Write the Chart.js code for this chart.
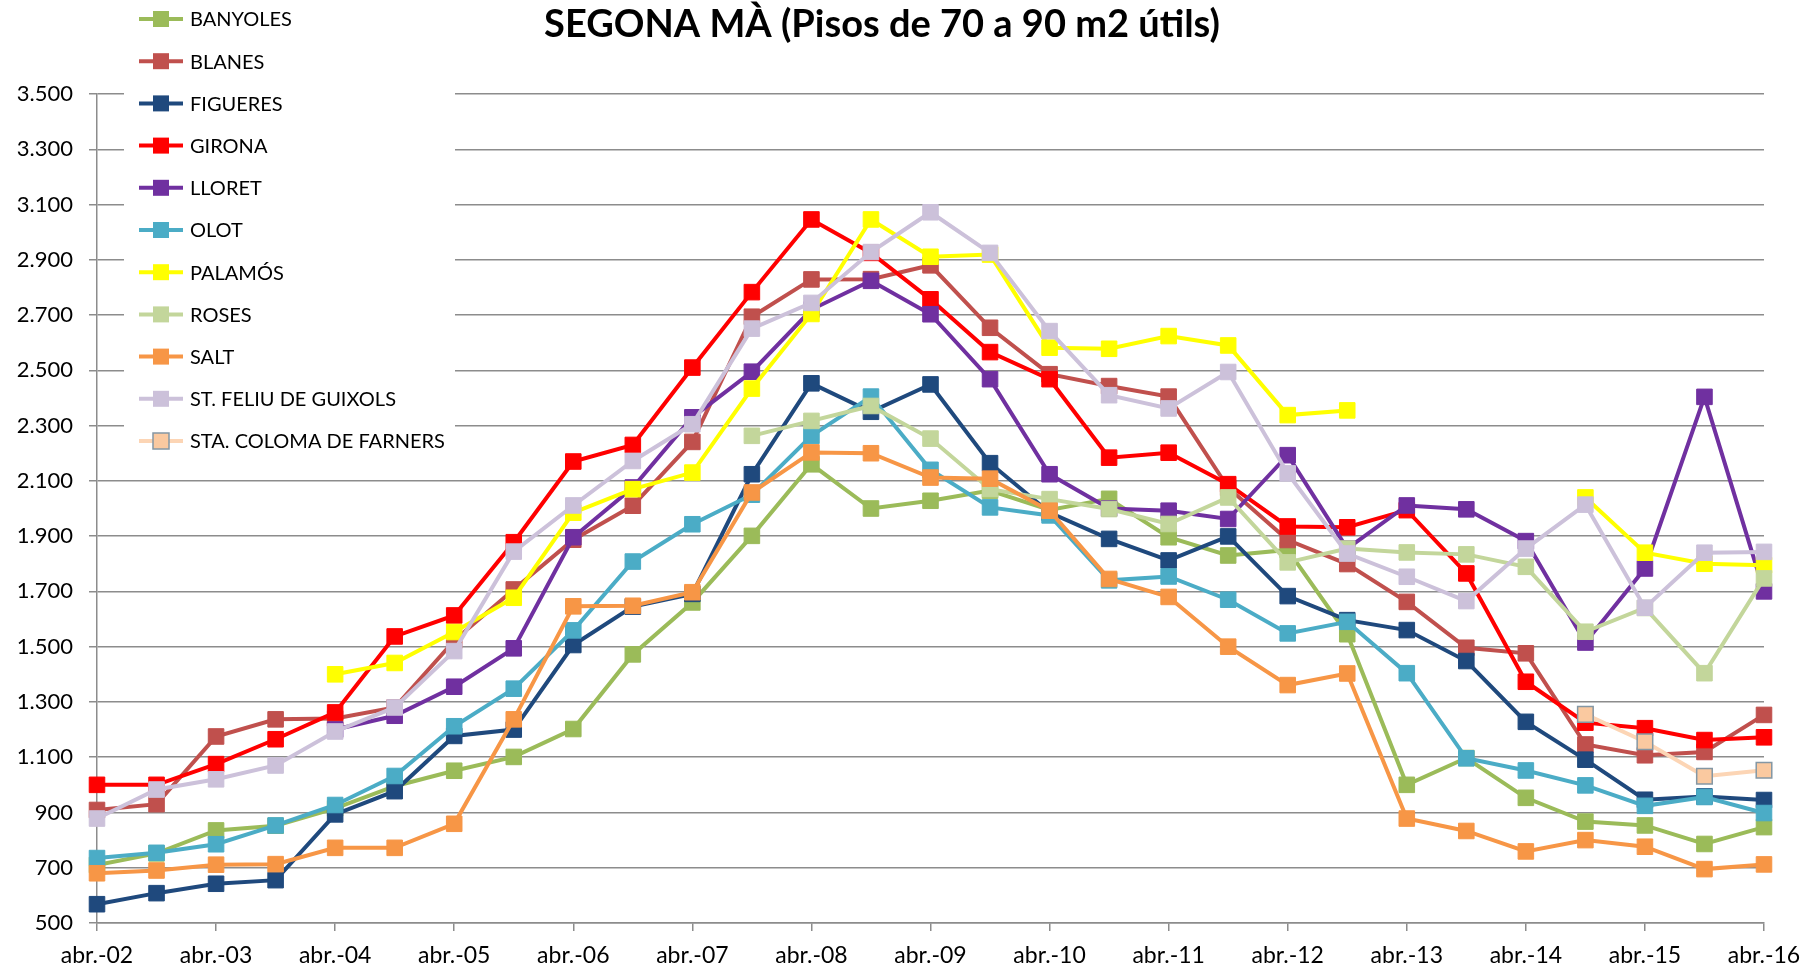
<!DOCTYPE html>
<html><head><meta charset="utf-8">
<script src="https://cdn.jsdelivr.net/npm/chart.js@4"></script>
<style>html,body{margin:0;padding:0;background:#fff;overflow:hidden}#wrap{width:1816px;height:977px;position:relative}</style>
</head><body><div id="wrap"><canvas id="c" width="1816" height="977"></canvas></div>
<script>
// ---- DATA ----
const chartTitle = 'SEGONA MÀ (Pisos de 70 a 90 m2 útils)';
const tickLabels = ['abr.-02','abr.-03','abr.-04','abr.-05','abr.-06','abr.-07','abr.-08','abr.-09','abr.-10','abr.-11','abr.-12','abr.-13','abr.-14','abr.-15','abr.-16'];
const seriesNames = ['BANYOLES','BLANES','FIGUERES','GIRONA','LLORET','OLOT','PALAMÓS','ROSES','SALT','ST. FELIU DE GUIXOLS','STA. COLOMA DE FARNERS'];
const banyoles = [710,752,835,852,915,995,1051,1101,1202,1472,1660,1901,2160,2000,2028,2065,1995,2035,1896,1830,1850,1545,1000,1097,953,867,853,786,847];
const blanes   = [909,930,1175,1237,1240,1280,1522,1707,1887,2010,2241,2694,2829,2830,2880,2654,2486,2443,2405,2075,1886,1799,1662,1496,1476,1146,1107,1119,1253];
const figueres = [568,608,642,655,893,977,1177,1200,1506,1645,1691,2124,2453,2350,2449,2164,1985,1890,1812,1899,1683,1596,1560,1448,1228,1091,946,958,945];
const girona   = [1000,1000,1075,1165,1262,1537,1613,1878,2170,2230,2510,2783,3046,2925,2757,2566,2468,2184,2202,2088,1935,1932,1994,1765,1373,1225,1205,1162,1172];
const lloret   = [null,null,null,null,1200,1250,1355,1494,1896,2076,2330,2495,2720,2824,2703,2468,2124,2000,1992,1962,2193,1855,2011,1997,1882,1515,1783,2404,1700];
const olot     = [735,754,785,853,927,1032,1212,1348,1559,1808,1943,2050,2263,2405,2140,2004,1975,1740,1754,1670,1548,1590,1404,1096,1052,998,924,956,898];
const palamos  = [null,null,null,null,1400,1441,1553,1677,1985,2070,2130,2434,2704,3046,2911,2919,2582,2578,2624,2590,2338,2355,null,null,null,2040,1840,1800,1795];
const roses    = [null,null,null,null,null,null,null,null,null,null,null,2263,2317,2371,2253,2070,2034,1998,1944,2040,1805,1855,1841,1834,1789,1554,1640,1404,1747];
const salt     = [680,690,711,713,772,772,859,1237,1646,1648,1697,2058,2203,2200,2112,2108,1992,1745,1680,1500,1361,1403,878,833,759,800,776,695,712];
const stFeliu  = [878,983,1020,1070,1193,1280,1484,1844,2011,2172,2305,2651,2744,2928,3072,2925,2642,2410,2362,2494,2127,1837,1753,1665,1855,2014,1641,1840,1843];
const staColoma= [null,null,null,null,null,null,null,null,null,null,null,null,null,null,null,null,null,null,null,null,null,null,null,null,null,1255,1156,1031,1053];

// categories: half-yearly points, labelled only in April
const categories = [];
tickLabels.forEach((t, i) => { categories.push(t); if (i < tickLabels.length - 1) categories.push(''); });

// ---- STYLE ----
const FONT = 'Lato, "Liberation Sans", sans-serif';
const lineColors   = ['#9BBB59','#C0504D','#1F497D','#FF0000','#7030A0','#4BACC6','#FFFF00','#C3D69B','#F79646','#CCC1DA','#FCD5B5'];
const markerFill   = ['#9BBB59','#C0504D','#1F497D','#FF0000','#7030A0','#4BACC6','#FFFF00','#C3D69B','#F79646','#CCC1DA','#FAC9A0'];
const markerBorder = ['#9BBB59','#C0504D','#1F497D','#FF0000','#7030A0','#4BACC6','#FFFF00','#C3D69B','#F79646','#CCC1DA','#8497A4'];
const allSeries = [banyoles, blanes, figueres, girona, lloret, olot, palamos, roses, salt, stFeliu, staColoma];

const datasets = allSeries.map((d, i) => ({
  label: seriesNames[i],
  data: d,
  borderColor: lineColors[i],
  backgroundColor: markerFill[i],
  pointBackgroundColor: markerFill[i],
  pointBorderColor: markerBorder[i],
  pointBorderWidth: i === 10 ? 1.5 : 1,
  pointStyle: 'rect',
  pointRadius: 11,
  pointHoverRadius: 11,
  borderWidth: 4,
  tension: 0,
  spanGaps: false,
  order: allSeries.length - i
}));

const fmt = v => v >= 1000 ? Math.floor(v / 1000) + '.' + String(v % 1000).padStart(3, '0') : String(v);

const titlePlugin = {
  id: 'fixedTitle',
  afterDraw(chart) {
    const ctx = chart.ctx;
    ctx.save();
    ctx.font = 'bold 38px ' + FONT;
    ctx.fillStyle = '#000';
    ctx.textAlign = 'center';
    ctx.textBaseline = 'middle';
    ctx.fillText(chartTitle, 882, 25);
    ctx.restore();
  }
};

const legendPlugin = {
  id: 'insideLegend',
  afterDraw(chart) {
    const ctx = chart.ctx;
    ctx.save();
    ctx.fillStyle = '#fff';
    ctx.fillRect(124, 0, 331, 458);
    chart.data.datasets.forEach((ds, i) => {
      const y = 19 + 42.2 * i;
      ctx.strokeStyle = ds.borderColor;
      ctx.lineWidth = 4;
      ctx.beginPath(); ctx.moveTo(139, y); ctx.lineTo(183, y); ctx.stroke();
      ctx.fillStyle = ds.pointBackgroundColor;
      ctx.fillRect(153, y - 8, 16, 16);
      if (ds.pointBorderColor !== ds.pointBackgroundColor) {
        ctx.strokeStyle = ds.pointBorderColor; ctx.lineWidth = 1.5;
        ctx.strokeRect(153, y - 8, 16, 16);
      }
      ctx.fillStyle = '#000';
      ctx.font = '20px ' + FONT;
      ctx.textAlign = 'left';
      ctx.textBaseline = 'middle';
      ctx.fillText(ds.label, 190, y + 1);
    });
    ctx.restore();
  }
};

new Chart(document.getElementById('c'), {
  type: 'line',
  data: { labels: categories, datasets },
  plugins: [titlePlugin, legendPlugin],
  options: {
    responsive: false,
    animation: false,
    devicePixelRatio: 1,
    layout: { padding: { top: 94, right: 52, bottom: 0, left: 0 } },
    plugins: { legend: { display: false }, title: { display: false }, tooltip: { enabled: false } },
    scales: {
      x: {
        type: 'category',
        offset: false,
        afterFit: s => { s.height = 54; },
        grid: {
          drawOnChartArea: false, drawTicks: true, tickLength: 8,
          color: c => (c.index % 2 === 0 ? '#8c8c8c' : 'rgba(0,0,0,0)'), lineWidth: 1.5
        },
        border: { display: true, color: '#8c8c8c', width: 1.5 },
        ticks: { autoSkip: false, maxRotation: 0, minRotation: 0, padding: 11, color: '#000', font: { family: FONT, size: 23 } }
      },
      y: {
        min: 500, max: 3500,
        afterFit: s => { s.width = 97; },
        grid: { color: '#8c8c8c', lineWidth: 1.5, drawTicks: true, tickLength: 8 },
        border: { display: true, color: '#8c8c8c', width: 1.5 },
        ticks: { stepSize: 200, padding: 16, color: '#000', font: { family: FONT, size: 22 }, callback: v => fmt(v) }
      }
    }
  }
});
</script></body></html>
